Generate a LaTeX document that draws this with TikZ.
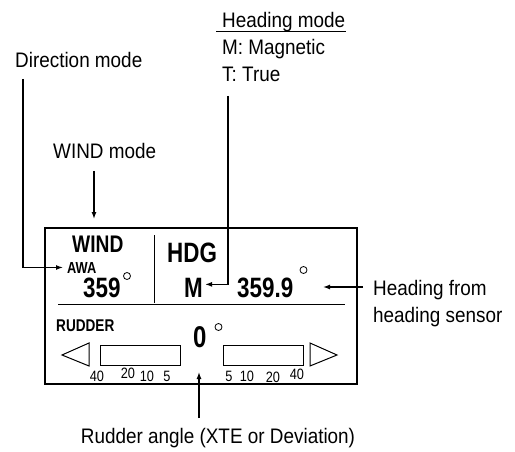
\documentclass[tikz,border=0pt]{standalone}
\usepackage{fontspec}
\setmainfont{Liberation Sans}
\newfontfamily\notefont[FakeStretch=0.9]{Liberation Sans}
\newfontfamily\narrowfont[FakeStretch=0.8]{Liberation Sans}
\newfontfamily\tickfont[FakeStretch=0.85]{Liberation Sans}
\usetikzlibrary{positioning, arrows.meta, calc}

\begin{document}
\begin{tikzpicture}[
        x=1pt, y=-1pt,
        note/.style={font=\notefont\fontsize{21}{27}\selectfont, inner sep=0pt, anchor=base west},
        disp/.style={font=\narrowfont\bfseries\fontsize{#1}{#1}\selectfont, inner sep=0pt, anchor=base west},
        tick/.style={font=\tickfont\fontsize{15}{15}\selectfont, inner sep=0pt, anchor=base},
        arrow/.style={line width=1.3pt, -{Latex[length=7pt,width=5pt]}},
        frame/.style={line width=1.5pt},
        thinline/.style={line width=1pt},
        deg/.style={circle, draw, line width=0.8pt, inner sep=0pt, minimum size=7pt}
    ]
    \useasboundingbox (0,0) rectangle (515,452);

    % Callouts
    \node (dirmode) [note] at (15,68) {Direction mode};
    \node (windmode) [note] at (53,158) {WIND mode};
    \node (hdgmode) [note] at (222,28) {Heading mode};
    \node (magmode) [note] at (222,55) {M: Magnetic};
    \node (truemode) [note] at (222,82) {T: True};
    \node (hdgfrom) [note] at (373,295) {Heading from};
    \node (hdgsensor) [note] at (373,322) {heading sensor};
    \node (rudangle) [note, anchor=base] at (218,443) {Rudder angle (XTE or Deviation)};
    \draw [thinline] (216,32) -- (346,32);

    % Display panel
    \draw [frame] (45,228) rectangle (357,384);
    \draw [thinline] (154,235) -- (154,303);
    \draw [thinline] (58,304) -- (345,304);

    \node (wind) [disp=24] at (72,252) {WIND};
    \node (awa) [disp=16] at (67,273) {AWA};
    \node (awaval) [disp=28] at (83,298) {359};
    \node (hdg) [disp=28] at (167,262) {HDG};
    \node (M) [disp=28] at (184,298) {M};
    \node (hdgval) [disp=28] at (237,298) {359.9};
    \node (rudder) [disp=17] at (56,331) {RUDDER};
    \node (rudval) [disp=30] at (193,347) {0};
    \node (deg1) [deg] at (127,276) {};
    \node (deg2) [deg] at (303.5,270) {};
    \node (deg3) [deg] at (218.5,327) {};

    % Rudder bars
    \draw [thinline] (62,355) -- (89,343) -- (89,366) -- cycle;
    \draw [thinline] (100,345) rectangle (180,365);
    \draw [thinline] (223,345) rectangle (303,365);
    \draw [thinline] (337,355) -- (310,343) -- (310,366) -- cycle;
    \node (tl40) [tick] at (97,381) {40};
    \node (tl20) [tick] at (128,378) {20};
    \node (tl10) [tick] at (147,381) {10};
    \node (tl5) [tick] at (167,381) {5};
    \node (tr5) [tick] at (229,381) {5};
    \node (tr10) [tick] at (247,381) {10};
    \node (tr20) [tick] at (273,382) {20};
    \node (tr40) [tick] at (297,379) {40};

    % Arrows
    \coordinate (dirstart) at (23,79);
    \coordinate (windstart) at (94,171);
    \coordinate (windtip) at (94,219);
    \coordinate (hdgstart) at (228,96);
    \coordinate (sensorstart) at (363,287);
    \coordinate (sensortip) at (323,287);
    \coordinate (rudstart) at (199,418);
    \coordinate (rudtip) at (199,372);

    \draw [arrow] (dirstart) |- ([xshift=-4pt]awa.west);
    \draw [arrow] (windstart) -- (windtip);
    \draw [arrow] (hdgstart) |- ([xshift=2pt,yshift=4pt]M.east);
    \draw [arrow] (sensorstart) -- (sensortip);
    \draw [arrow] (rudstart) -- (rudtip);

\end{tikzpicture}
\end{document}
